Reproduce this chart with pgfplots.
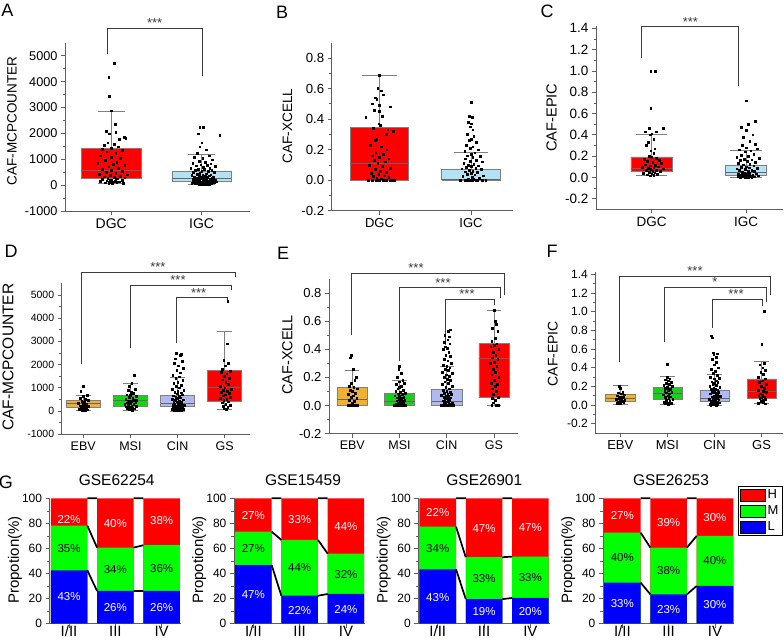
\documentclass[border=0pt]{standalone}
\usepackage{fontspec}
\setmainfont{Liberation Sans}
\usepackage{pgfplots}
\pgfplotsset{compat=1.18}
\definecolor{cRed}{RGB}{255,0,0}
\definecolor{cLB}{RGB}{178,226,244}
\definecolor{cOr}{RGB}{240,176,48}
\definecolor{cGr}{RGB}{20,210,20}
\definecolor{cLav}{RGB}{176,186,240}
\definecolor{gR}{RGB}{255,0,0}
\definecolor{gG}{RGB}{0,255,0}
\definecolor{gB}{RGB}{0,0,255}
\definecolor{axg}{RGB}{95,95,95}
\definecolor{brk}{RGB}{60,60,60}
\newcommand\fs[1]{\fontsize{#1}{#1}\selectfont}
\tikzset{
 pw/.style={font=\fs{11.5}, text=white},
 pb/.style={font=\fs{11.5}, text=black},
 starn/.style={anchor=south, inner sep=0pt, yshift=0.5pt, font=\fs{13}, text=brk}
}
\pgfplotsset{
 base/.style={scale only axis, anchor=south west, clip=false,
   axis x line*=bottom, axis y line*=left,
   axis line style={axg, line width=0.7pt},
   tick style={axg, line width=0.6pt},
   tick align=outside, major tick length=4pt, minor tick length=2.5pt,
   minor y tick num=1,
   /pgf/number format/assume math mode=true,
   /pgf/number format/1000 sep={}},
 dec/.style={/pgf/number format/fixed, /pgf/number format/fixed zerofill, /pgf/number format/precision=1},
 dots/.style={only marks, mark=square*, mark size=0.85pt, black, mark options={draw=black, fill=black}},
 bx/.style={draw=gray, line width=0.6pt},
 wh/.style={gray, line width=0.6pt, unbounded coords=jump},
 md/.style={draw=black!60, line width=0.6pt, unbounded coords=jump},
 gst/.style={base, width=131.5pt, height=125.4pt, xmin=0.58, xmax=3.42, ymin=0, ymax=100,
   xtick={1,2,3}, xticklabels={I/II,III,IV}, ytick={0,20,...,100},
   ylabel={Propotion(\%)},
   every axis y label/.style={at={(axis description cs:-0.263,0.508)}, rotate=90, anchor=center, font=\fs{15}},
   yticklabel style={font=\fs{12}}, xticklabel style={font=\fs{15}, yshift=5.5pt}},
 gbar/.style={ybar, bar width=0.79, bar shift=0pt, draw=none, forget plot},
 conn/.style={black, line width=1.7pt, unbounded coords=jump, forget plot}
}
\begin{document}
\begin{tikzpicture}
\useasboundingbox (0pt,0pt) rectangle (784pt,640pt);
% panel letters
\node[font=\fs{18}] at (7.5pt,629.5pt) {A};
\node[font=\fs{18}] at (282pt,627.5pt) {B};
\node[font=\fs{18}] at (547pt,629pt) {C};
\node[font=\fs{18}] at (11pt,388.3pt) {D};
\node[font=\fs{18}] at (283pt,386.7pt) {E};
\node[font=\fs{18}] at (552pt,389pt) {F};
\node[font=\fs{18}] at (6pt,158pt) {G};
% ================= A
\begin{axis}[base, at={(65pt,428.5pt)}, width=185pt, height=168.8pt,
  xmin=0.488, xmax=2.535, ymin=-1000, ymax=5500,
  xtick={1,2}, xticklabels={DGC,IGC}, ytick={-1000,0,1000,2000,3000,4000,5000},
  ylabel={CAF-MCPCOUNTER},
  every axis y label/.style={at={(axis description cs:-0.286,0.536)}, rotate=90, anchor=center, font=\fs{13.5}},
  yticklabel style={font=\fs{12.7}}, xticklabel style={font=\fs{14}}]
\addplot[bx, fill=cRed] coordinates {(0.67,270)(1.33,270)(1.33,1435)(0.67,1435)(0.67,270)};
\addplot[bx, fill=cLB] coordinates {(1.67,155)(2.33,155)(2.33,560)(1.67,560)(1.67,155)};
\addplot[md] coordinates {(0.67,590)(1.33,590)(1.5,nan)(1.67,270)(2.33,270)};
\addplot[wh] coordinates {(1,1435)(1,2870)(1,nan)(0.85,2870)(1.15,2870)(1,nan)(1,270)(1,90)(1,nan)(0.85,90)(1.15,90)(1,nan)(2,560)(2,1190)(2,nan)(1.85,1190)(2.15,1190)(2,nan)(2,155)(2,40)(2,nan)(1.85,40)(2.15,40)};
\addplot[dots] coordinates {(1.03,4720)(0.97,4180)(0.98,3440)(1.0,2880)(1.04,2350)(0.94,2080)(1.05,2060)(0.98,1990)(1.14,1860)(1.16,1820)(1.09,1780)(0.96,1650)(1.03,1600)(0.92,1560)(1.08,1500)(1.0,1450)(0.9,1400)(1.12,1350)(0.95,1300)(1.05,1250)(0.88,1150)(1.0,1100)(1.1,1050)(0.93,980)(1.06,900)(0.85,850)(1.02,820)(1.15,780)(0.97,720)(1.08,680)(0.9,640)(1.0,600)(1.12,560)(0.94,520)(1.05,480)(0.87,440)(1.18,420)(0.99,400)(1.1,370)(0.92,340)(1.03,320)(1.15,300)(0.96,280)(1.07,260)(0.9,240)(1.0,220)(1.12,200)(0.95,190)(1.04,170)(0.88,160)(1.09,150)(0.98,130)(1.06,120)(0.93,110)(1.01,100)(1.13,90)(0.97,80)(1.05,250)(0.99,200)(1.02,150)};
\addplot[dots] coordinates {(1.98,2250)(2.02,2250)(1.96,2000)(2.2,1950)(2.0,1650)(1.98,1500)(2.05,1380)(1.95,1250)(2.08,1150)(1.92,1100)(2.01,1050)(2.12,1000)(1.97,950)(2.04,900)(1.9,870)(2.1,840)(1.99,800)(2.06,780)(1.94,760)(2.15,740)(2.02,700)(1.88,680)(2.09,660)(1.96,640)(2.03,620)(2.11,600)(1.93,580)(2.0,560)(2.07,540)(1.91,520)(2.14,500)(1.98,480)(2.05,460)(1.95,440)(2.1,420)(2.01,400)(1.89,390)(2.08,380)(1.97,360)(2.04,350)(2.13,340)(1.92,330)(2.0,320)(2.06,310)(1.94,300)(2.11,290)(1.99,280)(2.03,270)(1.9,260)(2.09,250)(1.96,240)(2.02,230)(2.15,220)(1.93,210)(2.05,200)(1.98,190)(2.08,180)(1.91,175)(2.01,170)(2.12,165)(1.95,160)(2.04,155)(1.99,150)(2.07,145)(1.92,140)(2.1,135)(1.97,130)(2.03,125)(2.0,120)(2.14,115)(1.94,110)(2.06,105)(1.89,100)(2.02,95)(2.09,90)(1.96,85)(2.04,80)(1.99,75)(2.11,70)(1.93,65)(2.05,60)(2.0,55)(1.97,50)(2.08,45)(2.02,40)(2.13,250)(1.9,200)(2.16,150)};
\addplot[brk, line width=0.8pt] coordinates {(0.953,5065)(0.953,6054)(2.003,6054)(2.003,4218)};
\node[starn] at (axis cs:1.48,6054) {***};
\end{axis}
% ================= B
\begin{axis}[base, dec, at={(331.7pt,429.3pt)}, width=181.3pt, height=168pt,
  xmin=0.478, xmax=2.459, ymin=-0.2, ymax=0.9,
  xtick={1,2}, xticklabels={DGC,IGC}, ytick={-0.2,0,0.2,0.4,0.6,0.8},
  ylabel={CAF-XCELL},
  every axis y label/.style={at={(axis description cs:-0.244,0.504)}, rotate=90, anchor=center, font=\fs{13.6}},
  yticklabel style={font=\fs{13.2}}, xticklabel style={font=\fs{13}}]
\addplot[bx, fill=cRed] coordinates {(0.68,0)(1.32,0)(1.32,0.345)(0.68,0.345)(0.68,0)};
\addplot[bx, fill=cLB] coordinates {(1.68,0)(2.32,0)(2.32,0.074)(1.68,0.074)(1.68,0)};
\addplot[md] coordinates {(0.68,0.109)(1.32,0.109)(1.5,nan)(1.68,0.006)(2.32,0.006)};
\addplot[wh] coordinates {(1,0.345)(1,0.686)(1,nan)(0.81,0.686)(1.19,0.686)(1,nan)(0.81,0)(1.19,0)(2,nan)(2,0.074)(2,0.184)(2,nan)(1.81,0.184)(2.19,0.184)(2,nan)(1.81,0)(2.19,0)};
\addplot[dots] coordinates {(1.0,0.686)(0.98,0.6)(1.02,0.585)(0.95,0.54)(0.97,0.53)(1.04,0.56)(0.92,0.5)(1.0,0.49)(1.12,0.48)(0.94,0.46)(1.0,0.45)(0.85,0.41)(1.03,0.42)(0.99,0.37)(1.01,0.36)(0.93,0.34)(1.09,0.33)(1.15,0.32)(1.07,0.3)(0.97,0.27)(0.95,0.26)(0.9,0.23)(1.02,0.22)(1.08,0.2)(0.96,0.18)(1.04,0.17)(0.92,0.16)(1.0,0.15)(1.1,0.14)(0.94,0.13)(1.06,0.12)(0.98,0.11)(0.89,0.1)(1.03,0.09)(1.12,0.08)(0.95,0.07)(1.01,0.06)(1.07,0.05)(0.91,0.045)(0.99,0.04)(1.05,0.03)(0.93,0.025)(1.1,0.02)(0.97,0.015)(1.02,0.01)(0.88,0.0)(0.92,0.0)(0.96,0.0)(1.0,0.0)(1.04,0.0)(1.08,0.0)(1.12,0.0)(1.16,0.0)(0.98,0.0)(1.06,0.0)(1.14,0.0)};
\addplot[dots] coordinates {(2.0,0.51)(1.98,0.42)(2.01,0.41)(1.97,0.38)(2.0,0.37)(1.99,0.35)(2.02,0.33)(1.96,0.3)(2.03,0.29)(2.0,0.27)(1.98,0.26)(2.06,0.25)(1.95,0.23)(2.02,0.22)(1.99,0.21)(2.08,0.2)(1.93,0.19)(2.04,0.18)(2.0,0.17)(1.96,0.16)(2.1,0.155)(2.02,0.15)(1.94,0.14)(2.06,0.13)(1.99,0.125)(2.12,0.12)(1.92,0.11)(2.03,0.105)(1.97,0.1)(2.08,0.095)(2.0,0.09)(1.95,0.085)(2.05,0.08)(1.9,0.075)(2.11,0.07)(1.98,0.065)(2.02,0.06)(1.94,0.055)(2.07,0.05)(2.0,0.045)(1.96,0.04)(2.04,0.035)(2.13,0.03)(1.91,0.025)(2.01,0.02)(2.09,0.015)(1.97,0.01)(2.03,0.005)(1.88,0.0)(1.93,0.0)(1.98,0.0)(2.02,0.0)(2.07,0.0)(2.12,0.0)(2.16,0.0)(2.0,0.0)(1.95,0.0)(2.05,0.0)};
\end{axis}
% ================= C
\begin{axis}[base, dec, at={(596pt,430.7pt)}, width=187pt, height=183.1pt,
  xmin=0.409, xmax=2.392, ymin=-0.3, ymax=1.42,
  xtick={1,2}, xticklabels={DGC,IGC}, ytick={-0.2,0,0.2,0.4,0.6,0.8,1.0,1.2,1.4},
  ylabel={CAF-EPIC},
  every axis y label/.style={at={(axis description cs:-0.238,0.501)}, rotate=90, anchor=center, font=\fs{14.6}},
  yticklabel style={font=\fs{13.5}}, xticklabel style={font=\fs{13.5}}]
\addplot[bx, fill=cRed] coordinates {(0.78,0.057)(1.22,0.057)(1.22,0.192)(0.78,0.192)(0.78,0.057)};
\addplot[bx, fill=cLB] coordinates {(1.78,0.023)(2.22,0.023)(2.22,0.117)(1.78,0.117)(1.78,0.023)};
\addplot[md] coordinates {(0.78,0.089)(1.22,0.089)(1.5,nan)(1.78,0.051)(2.22,0.051)};
\addplot[wh] coordinates {(1,0.192)(1,0.40)(1,nan)(0.835,0.40)(1.165,0.40)(1,nan)(1,0.057)(1,0.016)(1,nan)(0.835,0.016)(1.165,0.016)(2,nan)(2,0.117)(2,0.258)(2,nan)(1.835,0.258)(2.165,0.258)(2,nan)(2,0.023)(2,0)(2,nan)(1.835,0)(2.165,0)};
\addplot[dots] coordinates {(0.99,1.0)(1.04,1.0)(0.99,0.65)(0.97,0.46)(1.12,0.46)(0.93,0.43)(1.05,0.43)(1.0,0.41)(0.98,0.4)(1.02,0.36)(0.96,0.33)(0.94,0.3)(1.03,0.27)(0.99,0.25)(1.02,0.23)(0.97,0.2)(1.0,0.19)(1.05,0.18)(0.92,0.17)(1.08,0.16)(0.95,0.15)(1.01,0.14)(1.1,0.13)(0.93,0.12)(1.04,0.115)(0.98,0.11)(1.07,0.1)(0.9,0.095)(1.02,0.09)(0.96,0.085)(1.12,0.08)(0.99,0.075)(1.05,0.07)(0.94,0.065)(1.01,0.06)(1.09,0.055)(0.97,0.05)(1.03,0.045)(0.91,0.04)(1.0,0.035)(1.06,0.03)(0.95,0.025)(1.02,0.02)(0.98,0.015)};
\addplot[dots] coordinates {(2.0,0.72)(2.1,0.53)(2.02,0.5)(1.95,0.47)(2.0,0.44)(2.07,0.4)(1.97,0.38)(2.04,0.34)(2.1,0.31)(1.96,0.3)(2.0,0.28)(2.12,0.27)(1.93,0.26)(2.05,0.25)(1.99,0.24)(2.08,0.22)(1.95,0.21)(2.02,0.2)(1.9,0.19)(2.14,0.18)(1.98,0.17)(2.06,0.165)(1.94,0.16)(2.01,0.15)(2.1,0.14)(1.92,0.13)(2.04,0.125)(1.97,0.12)(2.08,0.11)(2.0,0.1)(1.95,0.095)(2.03,0.09)(2.12,0.085)(1.9,0.08)(1.99,0.075)(2.06,0.07)(1.93,0.065)(2.02,0.06)(2.09,0.055)(1.96,0.05)(2.04,0.045)(1.98,0.04)(2.11,0.035)(1.92,0.03)(2.01,0.028)(2.07,0.025)(1.95,0.02)(2.03,0.018)(2.13,0.015)(1.97,0.012)(2.0,0.01)(2.05,0.008)(1.91,0.006)(2.09,0.005)(1.99,0.004)(2.02,0.002)(1.94,0.0)(2.06,0.0)};
\addplot[brk, line width=0.8pt] coordinates {(0.889,1.118)(0.889,1.415)(1.915,1.415)(1.915,0.858)};
\node[starn] at (axis cs:1.41,1.415) {***};
\end{axis}
% ================= D
\begin{axis}[base, at={(61.7pt,205.9pt)}, width=188.3pt, height=150.8pt,
  xmin=0.545, xmax=4.535, ymin=-1000, ymax=5500,
  xtick={1,2,3,4}, xticklabels={EBV,MSI,CIN,GS}, ytick={-1000,0,1000,2000,3000,4000,5000},
  ylabel={CAF-MCPCOUNTER},
  every axis y label/.style={at={(axis description cs:-0.285,0.51)}, rotate=90, anchor=center, font=\fs{15.5}},
  yticklabel style={font=\fs{10.5}}, xticklabel style={font=\fs{12.5}}]
\addplot[bx, fill=cOr] coordinates {(0.64,158)(1.36,158)(1.36,460)(0.64,460)(0.64,158)};
\addplot[bx, fill=cGr] coordinates {(1.64,185)(2.36,185)(2.36,676)(1.64,676)(1.64,185)};
\addplot[bx, fill=cLav] coordinates {(2.64,185)(3.36,185)(3.36,676)(2.64,676)(2.64,185)};
\addplot[bx, fill=cRed] coordinates {(3.64,400)(4.36,400)(4.36,1737)(3.64,1737)(3.64,400)};
\addplot[md] coordinates {(0.64,316)(1.36,316)(1.5,nan)(1.64,445)(2.36,445)(2.5,nan)(2.64,316)(3.36,316)(3.5,nan)(3.64,1020)(4.36,1020)};
\addplot[wh] coordinates {(1,460)(1,690)(1,nan)(0.84,690)(1.16,690)(1,nan)(1,158)(1,30)(1,nan)(0.84,30)(1.16,30)(1,nan)(2,676)(2,1190)(2,nan)(1.84,1190)(2.16,1190)(2,nan)(2,185)(2,43)(2,nan)(1.84,43)(2.16,43)(2,nan)(3,676)(3,1450)(3,nan)(2.84,1450)(3.16,1450)(3,nan)(3,185)(3,0)(3,nan)(2.84,0)(3.16,0)(3,nan)(4,1737)(4,3435)(4,nan)(3.84,3435)(4.16,3435)(4,nan)(4,400)(4,86)(4,nan)(3.84,86)(4.16,86)};
\addplot[dots] coordinates {(1.0,1070)(0.95,850)(1.08,680)(1.0,620)(0.93,560)(1.05,500)(1.1,450)(0.97,420)(1.02,380)(0.9,340)(1.07,310)(0.99,280)(1.04,250)(0.94,220)(1.1,190)(1.0,160)(0.96,130)(1.06,110)(1.02,90)(0.92,70)(1.08,50)(0.98,40)(1.04,30)};
\addplot[dots] coordinates {(2.08,1550)(2.03,1180)(1.97,1050)(2.1,950)(1.95,880)(2.02,820)(2.06,760)(1.92,700)(2.0,660)(2.12,620)(1.98,580)(2.05,540)(1.9,500)(2.08,470)(1.96,440)(2.02,410)(2.11,380)(1.93,350)(2.0,320)(2.07,290)(1.95,260)(2.03,230)(2.13,200)(1.91,180)(1.99,160)(2.05,140)(1.94,120)(2.09,100)(2.01,80)(1.97,60)(2.04,40)(1.88,300)(2.12,450)(2.0,700)};
\addplot[dots] coordinates {(2.97,2500)(3.07,2450)(3.05,2400)(2.95,2250)(3.1,2150)(2.93,2050)(3.02,1950)(3.12,1850)(2.98,1750)(3.06,1650)(2.9,1550)(3.03,1480)(2.96,1400)(3.11,1320)(3.0,1250)(2.92,1180)(3.08,1100)(2.97,1050)(3.04,1000)(2.89,950)(3.13,900)(3.0,860)(2.94,820)(3.07,780)(2.99,740)(3.1,700)(2.91,660)(3.03,630)(2.96,600)(3.06,570)(3.0,540)(2.88,510)(3.12,480)(2.95,450)(3.04,420)(2.98,400)(3.09,380)(2.92,360)(3.01,340)(3.07,320)(2.94,300)(3.02,280)(3.14,260)(2.9,240)(2.99,220)(3.05,200)(2.93,180)(3.1,160)(2.97,150)(3.03,140)(2.91,130)(3.08,120)(3.0,110)(2.95,100)(3.06,90)(2.89,80)(3.12,70)(2.98,60)(3.04,50)(2.93,45)(3.01,40)(3.09,35)(2.96,30)(3.02,25)(3.07,20)(2.94,310)(3.1,250)(2.9,200)(3.05,350)(2.99,180)};
\addplot[dots] coordinates {(4.06,4720)(4.05,2900)(3.98,2200)(4.08,2050)(4.01,1950)(3.95,1800)(4.12,1720)(3.92,1680)(4.04,1600)(3.99,1500)(4.1,1420)(3.94,1350)(4.02,1250)(4.07,1150)(3.9,1050)(4.0,1000)(4.13,950)(3.96,900)(4.05,850)(3.93,800)(4.09,750)(4.01,700)(3.97,650)(4.11,600)(3.91,550)(4.04,500)(3.98,450)(4.08,400)(3.94,350)(4.02,300)(4.12,250)(3.96,200)(4.06,150)(3.99,100)(4.03,80)};
\addplot[brk, line width=0.8pt, unbounded coords=jump] coordinates {(0.969,2021)(0.969,5974)(4.217,5974)(4.217,5784)(2,nan)(1.992,2698)(1.992,5426)(4.132,5426)(4.132,5211)(2,nan)(2.967,2939)(2.967,4879)(4.062,4879)(4.062,4750)};
\node[starn] at (axis cs:2.585,5974) {***};
\node[starn] at (axis cs:3.009,5426) {***};
\node[starn] at (axis cs:3.447,4879) {***};
\end{axis}
% ================= E
\begin{axis}[base, dec, at={(329pt,206.4pt)}, width=188.7pt, height=154.3pt,
  xmin=0.506, xmax=4.504, ymin=-0.2, ymax=0.9,
  xtick={1,2,3,4}, xticklabels={EBV,MSI,CIN,GS}, ytick={-0.2,0,0.2,0.4,0.6,0.8},
  ylabel={CAF-XCELL},
  every axis y label/.style={at={(axis description cs:-0.22,0.51)}, rotate=90, anchor=center, font=\fs{14.5}},
  yticklabel style={font=\fs{13}}, xticklabel style={font=\fs{12.5}}]
\addplot[bx, fill=cOr] coordinates {(0.68,0)(1.32,0)(1.32,0.127)(0.68,0.127)(0.68,0)};
\addplot[bx, fill=cGr] coordinates {(1.68,0)(2.32,0)(2.32,0.085)(1.68,0.085)(1.68,0)};
\addplot[bx, fill=cLav] coordinates {(2.68,0)(3.32,0)(3.32,0.113)(2.68,0.113)(2.68,0)};
\addplot[bx, fill=cRed] coordinates {(3.68,0.061)(4.32,0.061)(4.32,0.443)(3.68,0.443)(3.68,0.061)};
\addplot[md] coordinates {(0.68,0.045)(1.32,0.045)(1.5,nan)(1.68,0.033)(2.32,0.033)(2.5,nan)(2.68,0.033)(3.32,0.033)(3.5,nan)(3.68,0.34)(4.32,0.34)};
\addplot[wh] coordinates {(1,0.127)(1,0.25)(1,nan)(0.85,0.25)(1.15,0.25)(1,nan)(0.85,0)(1.15,0)(2,nan)(2,0.085)(2,0.179)(2,nan)(1.85,0.179)(2.15,0.179)(2,nan)(1.85,0)(2.15,0)(3,nan)(3,0.113)(3,0.283)(3,nan)(2.85,0.283)(3.15,0.283)(3,nan)(2.85,0)(3.15,0)(4,nan)(4,0.443)(4,0.682)(4,nan)(3.85,0.682)(4.15,0.682)(4,nan)(4,0.061)(4,0)(4,nan)(3.85,0)(4.15,0)};
\addplot[dots] coordinates {(0.97,0.36)(0.96,0.34)(1.02,0.26)(1.08,0.2)(1.05,0.18)(0.98,0.16)(0.93,0.14)(1.03,0.13)(1.1,0.12)(0.95,0.11)(1.0,0.1)(1.06,0.09)(0.92,0.08)(1.02,0.07)(0.97,0.06)(1.09,0.05)(0.94,0.04)(1.04,0.03)(1.0,0.02)(0.9,0.0)(0.95,0.0)(1.0,0.0)(1.05,0.0)(1.1,0.0)};
\addplot[dots] coordinates {(2.0,0.28)(1.98,0.26)(2.03,0.23)(1.95,0.2)(2.07,0.18)(1.99,0.17)(2.1,0.16)(1.93,0.15)(2.04,0.14)(2.0,0.13)(1.96,0.12)(2.08,0.11)(1.92,0.1)(2.02,0.095)(2.12,0.09)(1.97,0.085)(2.05,0.08)(1.9,0.07)(2.0,0.065)(2.09,0.06)(1.95,0.055)(2.03,0.05)(1.99,0.045)(2.11,0.04)(1.94,0.035)(2.06,0.03)(2.01,0.025)(1.96,0.02)(2.08,0.015)(1.92,0.01)(2.04,0.005)(1.89,0.0)(1.94,0.0)(1.99,0.0)(2.04,0.0)(2.09,0.0)(2.13,0.0)};
\addplot[dots] coordinates {(3.07,0.54)(3.03,0.53)(2.96,0.5)(3.05,0.49)(3.02,0.47)(2.95,0.45)(3.06,0.44)(2.97,0.42)(3.01,0.41)(2.93,0.4)(3.04,0.38)(2.98,0.36)(3.08,0.35)(2.95,0.33)(3.02,0.32)(3.1,0.3)(2.92,0.29)(3.0,0.28)(3.06,0.27)(2.97,0.26)(3.03,0.25)(2.9,0.24)(3.11,0.23)(2.99,0.22)(3.05,0.21)(2.94,0.2)(3.01,0.19)(3.08,0.18)(2.96,0.17)(3.03,0.16)(2.91,0.15)(3.12,0.14)(2.98,0.13)(3.05,0.12)(2.93,0.11)(3.0,0.1)(3.07,0.095)(2.95,0.09)(3.02,0.085)(3.1,0.08)(2.89,0.075)(2.99,0.07)(3.04,0.065)(2.94,0.06)(3.08,0.055)(3.01,0.05)(2.96,0.045)(3.06,0.04)(2.92,0.035)(3.03,0.03)(2.98,0.025)(3.11,0.02)(2.95,0.015)(3.05,0.01)(3.0,0.005)(2.88,0.0)(2.93,0.0)(2.98,0.0)(3.03,0.0)(3.08,0.0)(3.13,0.0)(2.96,0.0)(3.01,0.0)(3.06,0.0)};
\addplot[dots] coordinates {(4.0,0.68)(4.03,0.6)(4.05,0.58)(3.97,0.55)(4.08,0.53)(4.02,0.48)(3.95,0.46)(4.06,0.44)(4.0,0.43)(3.93,0.42)(4.1,0.4)(3.98,0.38)(4.04,0.36)(3.96,0.34)(4.08,0.33)(4.01,0.31)(3.92,0.3)(4.06,0.28)(3.99,0.26)(4.03,0.24)(3.95,0.22)(4.1,0.2)(4.0,0.18)(3.94,0.16)(4.07,0.15)(4.02,0.14)(3.97,0.12)(4.05,0.1)(3.99,0.08)(4.09,0.06)(3.96,0.05)(4.03,0.04)(3.98,0.02)(4.05,0.0)(4.1,0.0)(3.95,0.0)};
\addplot[brk, line width=0.8pt, unbounded coords=jump] coordinates {(0.987,0.503)(0.987,0.94)(4.228,0.94)(4.228,0.788)(2,nan)(1.995,0.32)(1.995,0.84)(4.129,0.84)(4.129,0.764)(2,nan)(2.964,0.431)(2.964,0.757)(4.008,0.757)(4.008,0.717)};
\node[starn] at (axis cs:2.349,0.94) {***};
\node[starn] at (axis cs:2.921,0.84) {***};
\node[starn] at (axis cs:3.43,0.757) {***};
\end{axis}
% ================= F
\begin{axis}[base, dec, at={(595.3pt,207pt)}, width=187.7pt, height=160.7pt,
  xmin=0.469, xmax=4.454, ymin=-0.3, ymax=1.42,
  xtick={1,2,3,4}, xticklabels={EBV,MSI,CIN,GS}, ytick={-0.2,0,0.2,0.4,0.6,0.8,1.0,1.2,1.4},
  ylabel={CAF-EPIC},
  every axis y label/.style={at={(axis description cs:-0.226,0.493)}, rotate=90, anchor=center, font=\fs{14}},
  yticklabel style={font=\fs{12}}, xticklabel style={font=\fs{13}}]
\addplot[bx, fill=cOr] coordinates {(0.69,0.036)(1.31,0.036)(1.31,0.118)(0.69,0.118)(0.69,0.036)};
\addplot[bx, fill=cGr] coordinates {(1.69,0.061)(2.31,0.061)(2.31,0.186)(1.69,0.186)(1.69,0.061)};
\addplot[bx, fill=cLav] coordinates {(2.69,0.039)(3.31,0.039)(3.31,0.161)(2.69,0.161)(2.69,0.039)};
\addplot[bx, fill=cRed] coordinates {(3.69,0.068)(4.31,0.068)(4.31,0.279)(3.69,0.279)(3.69,0.068)};
\addplot[md] coordinates {(0.69,0.071)(1.31,0.071)(1.5,nan)(1.69,0.121)(2.31,0.121)(2.5,nan)(2.69,0.075)(3.31,0.075)(3.5,nan)(3.69,0.15)(4.31,0.15)};
\addplot[wh] coordinates {(1,0.118)(1,0.214)(1,nan)(0.835,0.214)(1.165,0.214)(1,nan)(1,0.036)(1,0.006)(1,nan)(0.835,0.006)(1.165,0.006)(2,nan)(2,0.186)(2,0.303)(2,nan)(1.835,0.303)(2.165,0.303)(2,nan)(2,0.061)(2,0.006)(2,nan)(1.835,0.006)(2.165,0.006)(3,nan)(3,0.161)(3,0.328)(3,nan)(2.835,0.328)(3.165,0.328)(3,nan)(3,0.039)(3,0)(3,nan)(2.835,0)(3.165,0)(4,nan)(4,0.279)(4,0.464)(4,nan)(3.835,0.464)(4.165,0.464)(4,nan)(4,0.068)(4,0.014)(4,nan)(3.835,0.014)(4.165,0.014)};
\addplot[dots] coordinates {(0.97,0.2)(1.0,0.18)(1.05,0.14)(0.95,0.13)(1.02,0.12)(1.08,0.11)(0.93,0.1)(1.0,0.09)(1.06,0.08)(0.97,0.07)(1.03,0.065)(0.91,0.06)(1.09,0.05)(0.99,0.045)(1.04,0.04)(0.95,0.035)(1.01,0.03)(1.07,0.025)(0.93,0.02)(1.0,0.015)};
\addplot[dots] coordinates {(2.0,0.44)(1.99,0.3)(2.05,0.28)(1.95,0.27)(2.02,0.26)(2.08,0.24)(1.97,0.23)(2.04,0.22)(1.92,0.21)(2.1,0.2)(2.0,0.19)(1.96,0.18)(2.06,0.17)(2.02,0.16)(1.94,0.15)(2.09,0.14)(1.98,0.13)(2.04,0.12)(1.91,0.11)(2.01,0.1)(2.07,0.09)(1.95,0.08)(2.03,0.07)(2.11,0.06)(1.97,0.05)(2.05,0.04)(1.93,0.03)(2.0,0.025)(2.08,0.02)(1.96,0.015)(2.02,0.01)};
\addplot[dots] coordinates {(2.93,0.74)(2.95,0.72)(2.97,0.56)(3.06,0.55)(2.98,0.54)(3.03,0.51)(2.95,0.49)(3.04,0.46)(3.0,0.43)(3.08,0.4)(2.93,0.38)(3.02,0.36)(2.97,0.34)(3.05,0.32)(2.91,0.3)(3.1,0.29)(2.99,0.28)(3.03,0.26)(2.94,0.25)(3.07,0.24)(3.0,0.23)(2.96,0.22)(3.04,0.21)(2.9,0.2)(3.11,0.19)(2.98,0.18)(3.02,0.175)(2.93,0.17)(3.06,0.165)(3.0,0.16)(2.95,0.15)(3.08,0.14)(2.97,0.13)(3.03,0.125)(2.91,0.12)(3.05,0.11)(2.99,0.1)(3.12,0.095)(2.94,0.09)(3.01,0.085)(3.07,0.08)(2.96,0.075)(3.04,0.07)(2.89,0.065)(3.0,0.06)(3.09,0.055)(2.97,0.05)(3.02,0.045)(2.93,0.04)(3.06,0.035)(2.99,0.03)(3.1,0.025)(2.95,0.02)(3.03,0.015)(2.91,0.01)(3.07,0.008)(3.0,0.005)(2.96,0.003)(3.04,0.0)(2.92,0.0)};
\addplot[dots] coordinates {(4.05,1.0)(4.0,0.65)(4.05,0.45)(3.96,0.43)(4.02,0.4)(4.08,0.37)(3.98,0.35)(4.04,0.33)(3.93,0.3)(4.07,0.28)(4.01,0.26)(3.95,0.24)(4.1,0.22)(3.99,0.2)(4.05,0.18)(3.92,0.16)(4.03,0.15)(4.09,0.14)(3.97,0.12)(4.01,0.11)(3.94,0.1)(4.06,0.09)(4.0,0.08)(3.96,0.07)(4.08,0.06)(4.02,0.05)(3.98,0.04)(4.04,0.03)(3.93,0.02)(4.07,0.015)};
\addplot[brk, line width=0.8pt, unbounded coords=jump] coordinates {(0.972,0.464)(0.972,1.378)(4.178,1.378)(4.178,1.178)(2,nan)(1.942,0.678)(1.942,1.256)(4.108,1.256)(4.108,1.1)(2,nan)(2.962,0.821)(2.962,1.135)(4.023,1.135)(4.023,1.064)};
\node[starn] at (axis cs:2.586,1.378) {***};
\node[starn] at (axis cs:3.01,1.256) {*};
\node[starn] at (axis cs:3.456,1.135) {***};
\end{axis}
% ================= G titles
\node[font=\fs{15.5}] at (116.7pt,160pt) {GSE62254};
\node[font=\fs{15.5}] at (303pt,160pt) {GSE15459};
\node[font=\fs{15.5}] at (484.3pt,160pt) {GSE26901};
\node[font=\fs{15.5}] at (671pt,160pt) {GSE26253};
% ================= G1
\begin{axis}[gst, at={(49.6pt,16.3pt)}]
\addplot[gbar, fill=gR] coordinates {(1,100)(2,100)(3,100)};
\addplot[gbar, fill=gG] coordinates {(1,78.2)(2,60.7)(3,62.6)};
\addplot[gbar, fill=gB] coordinates {(1,42.6)(2,26.1)(3,26.1)};
\addplot[conn] coordinates {(1.395,100)(1.605,100)(1.5,nan)(1.395,78.2)(1.605,60.7)(1.5,nan)(1.395,42.6)(1.605,26.1)(2,nan)(2.395,100)(2.605,100)(2.5,nan)(2.395,60.7)(2.605,62.6)(2.5,nan)(2.395,26.1)(2.605,26.1)};
\node[pw] at (axis cs:1,82.7) {22\%};
\node[pb] at (axis cs:1,60.1) {35\%};
\node[pw] at (axis cs:1,21.5) {43\%};
\node[pw] at (axis cs:2,80.1) {40\%};
\node[pb] at (axis cs:2,43.4) {34\%};
\node[pw] at (axis cs:2,12.8) {26\%};
\node[pw] at (axis cs:3,82.2) {38\%};
\node[pb] at (axis cs:3,44.1) {36\%};
\node[pw] at (axis cs:3,12.8) {26\%};
\end{axis}
% ================= G2
\begin{axis}[gst, at={(233.9pt,16.3pt)}]
\addplot[gbar, fill=gR] coordinates {(1,100)(2,100)(3,100)};
\addplot[gbar, fill=gG] coordinates {(1,73.4)(2,66.8)(3,55.9)};
\addplot[gbar, fill=gB] coordinates {(1,46.8)(2,22.3)(3,23.7)};
\addplot[conn] coordinates {(1.395,100)(1.605,100)(1.5,nan)(1.395,73.4)(1.605,66.8)(1.5,nan)(1.395,46.8)(1.605,22.3)(2,nan)(2.395,100)(2.605,100)(2.5,nan)(2.395,66.8)(2.605,55.9)(2.5,nan)(2.395,22.3)(2.605,23.7)};
\node[pw] at (axis cs:1,85.9) {27\%};
\node[pb] at (axis cs:1,59.8) {27\%};
\node[pw] at (axis cs:1,23.4) {47\%};
\node[pw] at (axis cs:2,82.7) {33\%};
\node[pb] at (axis cs:2,44.7) {44\%};
\node[pw] at (axis cs:2,10.6) {22\%};
\node[pw] at (axis cs:3,77.4) {44\%};
\node[pb] at (axis cs:3,39.6) {32\%};
\node[pw] at (axis cs:3,11.4) {24\%};
\end{axis}
% ================= G3
\begin{axis}[gst, at={(418.3pt,16.3pt)}]
\addplot[gbar, fill=gR] coordinates {(1,100)(2,100)(3,100)};
\addplot[gbar, fill=gG] coordinates {(1,77.4)(2,53.0)(3,53.5)};
\addplot[gbar, fill=gB] coordinates {(1,43.4)(2,19.6)(3,20.5)};
\addplot[conn] coordinates {(1.395,100)(1.605,100)(1.5,nan)(1.395,77.4)(1.605,53.0)(1.5,nan)(1.395,43.4)(1.605,19.6)(2,nan)(2.395,100)(2.605,100)(2.5,nan)(2.395,53.0)(2.605,53.5)(2.5,nan)(2.395,19.6)(2.605,20.5)};
\node[pw] at (axis cs:1,88.6) {22\%};
\node[pb] at (axis cs:1,60.1) {34\%};
\node[pw] at (axis cs:1,21.0) {43\%};
\node[pw] at (axis cs:2,76.1) {47\%};
\node[pb] at (axis cs:2,36.2) {33\%};
\node[pw] at (axis cs:2,9.3) {19\%};
\node[pw] at (axis cs:3,76.9) {47\%};
\node[pb] at (axis cs:3,36.7) {33\%};
\node[pw] at (axis cs:3,9.8) {20\%};
\end{axis}
% ================= G4
\begin{axis}[gst, at={(602.9pt,16.3pt)},
  legend style={at={(axis description cs:1.027,1.098)}, anchor=north west, draw=black, line width=0.5pt,
    font=\fs{13}, inner xsep=2pt, inner ysep=1.5pt, row sep=1.5pt, cells={anchor=west}}]
\addplot[gbar, fill=gR] coordinates {(1,100)(2,100)(3,100)};
\addplot[gbar, fill=gG] coordinates {(1,72.6)(2,60.7)(3,70.0)};
\addplot[gbar, fill=gB] coordinates {(1,32.7)(2,23.4)(3,30.1)};
\addplot[conn] coordinates {(1.395,100)(1.605,100)(1.5,nan)(1.395,72.6)(1.605,60.7)(1.5,nan)(1.395,32.7)(1.605,23.4)(2,nan)(2.395,100)(2.605,100)(2.5,nan)(2.395,60.7)(2.605,70.0)(2.5,nan)(2.395,23.4)(2.605,30.1)};
\node[pw] at (axis cs:1,85.9) {27\%};
\node[pb] at (axis cs:1,52.7) {40\%};
\node[pw] at (axis cs:1,16.2) {33\%};
\node[pw] at (axis cs:2,80.6) {39\%};
\node[pb] at (axis cs:2,42.0) {38\%};
\node[pw] at (axis cs:2,10.9) {23\%};
\node[pw] at (axis cs:3,84.8) {30\%};
\node[pb] at (axis cs:3,50.0) {40\%};
\node[pw] at (axis cs:3,15.4) {30\%};
\addlegendimage{legend image code/.code={\draw[fill=gR, draw=black, line width=0.4pt] (0pt,-6pt) rectangle (25pt,6pt);}}
\addlegendentry{H}
\addlegendimage{legend image code/.code={\draw[fill=gG, draw=black, line width=0.4pt] (0pt,-6pt) rectangle (25pt,6pt);}}
\addlegendentry{M}
\addlegendimage{legend image code/.code={\draw[fill=gB, draw=black, line width=0.4pt] (0pt,-6pt) rectangle (25pt,6pt);}}
\addlegendentry{L}
\end{axis}
\end{tikzpicture}
\end{document}
